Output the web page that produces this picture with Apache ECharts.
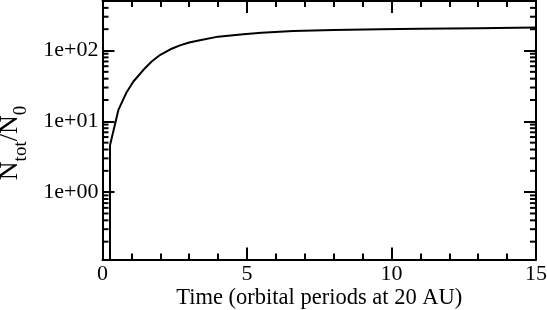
<!DOCTYPE html>
<html><head><meta charset="utf-8">
<script src="https://cdn.jsdelivr.net/npm/echarts@6/dist/echarts.min.js"></script>
<style>html,body{margin:0;padding:0;background:#fff}#c{width:547px;height:310px}</style>
</head><body><div id="c"></div>
<script>
const timeValues = [0.26, 0.26, 0.55, 0.84, 1.07, 1.41, 1.7, 2.0, 2.35, 2.68, 3.0, 3.37, 4.0, 4.87, 5.5, 6.6, 8.0, 9.6, 11.0, 13.0, 15.0];
const ratioValues = [0.1, 4.6, 14.5, 26, 36.5, 53, 70, 87, 104, 118, 130, 140, 157, 170, 178, 188, 195, 200, 203, 207, 211];
const yMinorTicks = [0.2,0.3,0.4,0.5,0.6,0.7,0.8,0.9,2,3,4,5,6,7,8,9,20,30,40,50,60,70,80,90,200,300,400];
const xTitle = 'Time (orbital periods at 20 AU)';
const yTitleRich = '{n|N}{s|tot}{n|/N}{s|0}';

const FONT = 'Liberation Serif';
const chart = echarts.init(document.getElementById('c'));
const lineStyle = {color:'#000', width:2};
const yLabelFmt = v => {
  const e = Math.round(Math.log10(v));
  const s = (e < 0 ? '-' : '+') + String(Math.abs(e)).padStart(2,'0');
  return '1e' + s;
};
const seriesData = timeValues.map((t,i)=>[t, ratioValues[i]]);
chart.setOption({
  animation:false,
  backgroundColor:'#fff',
  grid:{left:102.5, right:11, top:1, bottom:50.5, show:false, containLabel:false, outerBoundsMode:'none'},
  xAxis:[{
    type:'value', min:0, max:15, interval:5, position:'bottom',
    axisLine:{show:true, onZero:false, lineStyle},
    axisTick:{show:true, inside:true, length:12, lineStyle},
    minorTick:{show:true, splitNumber:5, length:6, lineStyle:{color:'#000', width:2}},
    splitLine:{show:false}, minorSplitLine:{show:false},
    axisLabel:{color:'#000', fontFamily:FONT, fontSize:22, margin:4},
    name:xTitle, nameLocation:'middle', nameGap:27, nameMoveOverlap:false,
    nameTextStyle:{color:'#000', fontFamily:FONT, fontSize:22.5}
  },{
    type:'value', min:0, max:15, interval:5, position:'top',
    axisLine:{show:true, onZero:false, lineStyle},
    axisTick:{show:true, inside:true, length:12, lineStyle},
    minorTick:{show:true, splitNumber:5, length:6, lineStyle:{color:'#000', width:2}},
    splitLine:{show:false}, axisLabel:{show:false}
  }],
  yAxis:[{
    type:'log', logBase:10, min:0.112, max:500, position:'left',
    axisLine:{show:true, onZero:false, lineStyle},
    axisTick:{show:true, inside:true, length:12, lineStyle},
    splitLine:{show:false},
    axisLabel:{color:'#000', fontFamily:FONT, fontSize:22, margin:4,
      formatter: v => yLabelFmt(v), showMinLabel:false, showMaxLabel:false}
  },{
    type:'log', logBase:10, min:0.112, max:500, position:'right',
    axisLine:{show:true, onZero:false, lineStyle},
    axisTick:{show:true, inside:true, length:12, lineStyle},
    splitLine:{show:false}, axisLabel:{show:false}
  }],
  graphic:[{
    type:'text', x:10, y:143, rotation:Math.PI/2,
    style:{text:yTitleRich, align:'center', verticalAlign:'middle', fill:'#000',
      rich:{
        n:{fontFamily:FONT, fontSize:26, lineHeight:26, verticalAlign:'top', fill:'#000'},
        s:{fontFamily:FONT, fontSize:19, lineHeight:19, verticalAlign:'top', padding:[15,0,0,0], fill:'#000'}
      }}
  }],
  series:[{
    type:'line', xAxisIndex:0, yAxisIndex:0, data:seriesData, showSymbol:false,
    lineStyle:{color:'#000', width:2}, clip:true, z:3
  },{
    type:'custom', xAxisIndex:0, yAxisIndex:0, clip:false, silent:true,
    data: yMinorTicks.map(v=>[0, v]),
    renderItem:(params, api)=>{
      const v = api.value(1);
      const pl = api.coord([0, v]);
      const pr = api.coord([15, v]);
      return {type:'group', children:[
        {type:'line', shape:{x1:pl[0], y1:pl[1], x2:pl[0]+6, y2:pl[1]}, style:{stroke:'#000', lineWidth:2}},
        {type:'line', shape:{x1:pr[0], y1:pr[1], x2:pr[0]-6, y2:pr[1]}, style:{stroke:'#000', lineWidth:2}}
      ]};
    }
  }]
});
</script></body></html>
